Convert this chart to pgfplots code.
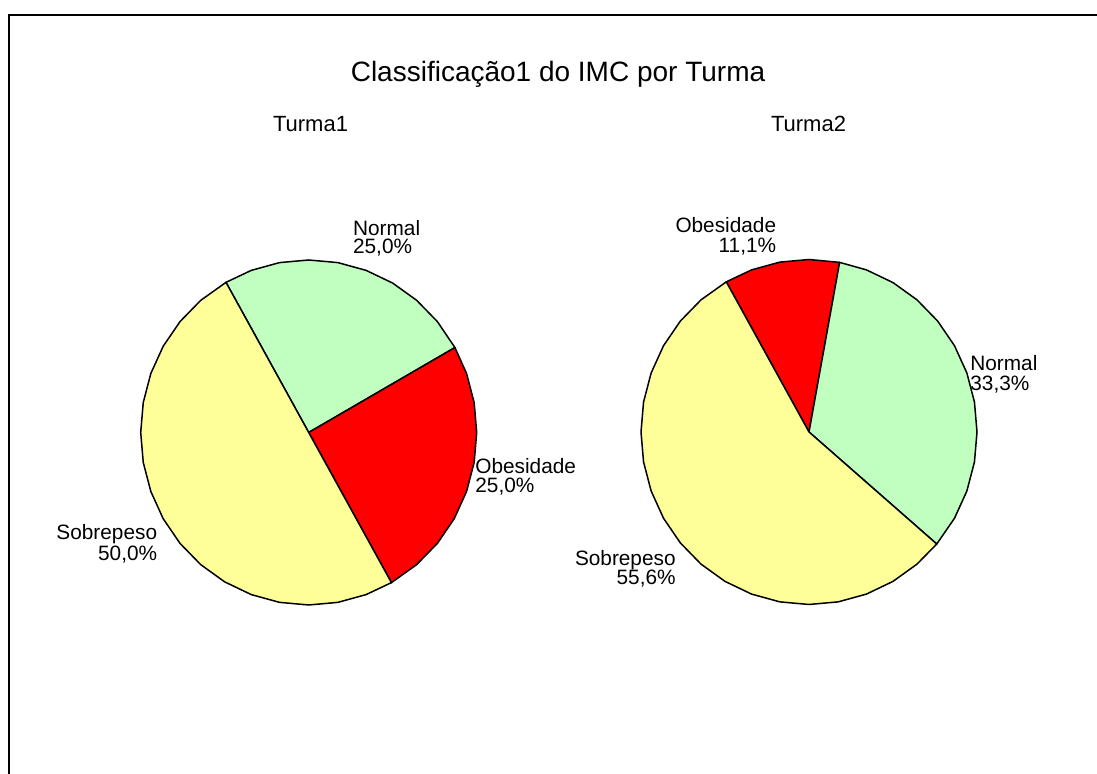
\documentclass[border=0pt]{standalone}
\usepackage{fontspec}
\setmainfont{Liberation Sans}
\usepackage{pgfplots}
\pgfplotsset{compat=1.18}
\definecolor{cnormal}{HTML}{C0FFC0}
\definecolor{cobes}{HTML}{FF0000}
\definecolor{csobre}{HTML}{FFFF99}
% Data: Turma1: Normal 25.0, Obesidade 25.0, Sobrepeso 50.0
%       Turma2: Obesidade 11.1, Normal 33.3, Sobrepeso 55.6
% Wedges start at 119.5 deg and run clockwise (1% = 3.6 deg)
\pgfplotsset{pie/.style={width=168pt,height=172.5pt,scale only axis,hide axis,
  xmin=-1,xmax=1,ymin=-1,ymax=1,anchor=center,clip=false},
  wedge/.style={draw=black,line width=0.75pt,line join=round,mark=none,data cs=polar}}
\begin{document}
\begin{tikzpicture}[x=0.5pt,y=0.5pt]
\useasboundingbox (0,0) rectangle (1097,774);
\begin{scope}
\clip (0,0) rectangle (1097,774);
\draw[line width=1pt] (9,759) rectangle (1120,-30);
\end{scope}
\node[anchor=base] at (558,692) {\fontsize{14}{16}\selectfont Classificação1 do IMC por Turma};
\node[anchor=base] at (310.5,642) {\fontsize{11}{13}\selectfont Turma1};
\node[anchor=base] at (808.5,642) {\fontsize{11}{13}\selectfont Turma2};
% Turma 1
\begin{axis}[pie,at={(154.35pt,170.75pt)}]
\addplot[wedge,fill=cnormal] coordinates {(0,0) (29.5,1) (40,1) (50,1) (60,1) (70,1) (80,1) (90,1) (100,1) (110,1) (119.5,1) (0,0)};
\addplot[wedge,fill=cobes] coordinates {(0,0) (-60.5,1) (-50,1) (-40,1) (-30,1) (-20,1) (-10,1) (0,1) (10,1) (20,1) (29.5,1) (0,0)};
\addplot[wedge,fill=csobre] coordinates {(0,0) (119.5,1) (130,1) (140,1) (150,1) (160,1) (170,1) (180,1) (190,1) (200,1) (210,1) (220,1) (230,1) (240,1) (250,1) (260,1) (270,1) (280,1) (290,1) (299.5,1) (0,0)};
\end{axis}
% Turma 2
\begin{axis}[pie,at={(404.5pt,171pt)}]
\addplot[wedge,fill=cobes] coordinates {(0,0) (79.5,1) (90,1) (100,1) (110,1) (119.5,1) (0,0)};
\addplot[wedge,fill=cnormal] coordinates {(0,0) (-40.5,1) (-30,1) (-20,1) (-10,1) (0,1) (10,1) (20,1) (30,1) (40,1) (50,1) (60,1) (70,1) (79.5,1) (0,0)};
\addplot[wedge,fill=csobre] coordinates {(0,0) (119.5,1) (130,1) (140,1) (150,1) (160,1) (170,1) (180,1) (190,1) (200,1) (210,1) (220,1) (230,1) (240,1) (250,1) (260,1) (270,1) (280,1) (290,1) (300,1) (310,1) (319.5,1) (0,0)};
\end{axis}
\begin{scope}[every node/.style={font=\fontsize{10.4}{10}\selectfont,inner sep=0pt}]
\node[anchor=base west] at (352.7,538) {Normal};
\node[anchor=base west] at (352.7,520) {25,0\%};
\node[anchor=base west] at (475,300) {Obesidade};
\node[anchor=base west] at (475,281.5) {25,0\%};
\node[anchor=base east] at (157.5,234) {Sobrepeso};
\node[anchor=base east] at (157.5,213.5) {50,0\%};
\node[anchor=base east] at (776.5,541.7) {Obesidade};
\node[anchor=base east] at (776.5,521.3) {11,1\%};
\node[anchor=base west] at (970,403.3) {Normal};
\node[anchor=base west] at (970,383.3) {33,3\%};
\node[anchor=base east] at (676,208) {Sobrepeso};
\node[anchor=base east] at (676,189.7) {55,6\%};
\end{scope}
\end{tikzpicture}
\end{document}
